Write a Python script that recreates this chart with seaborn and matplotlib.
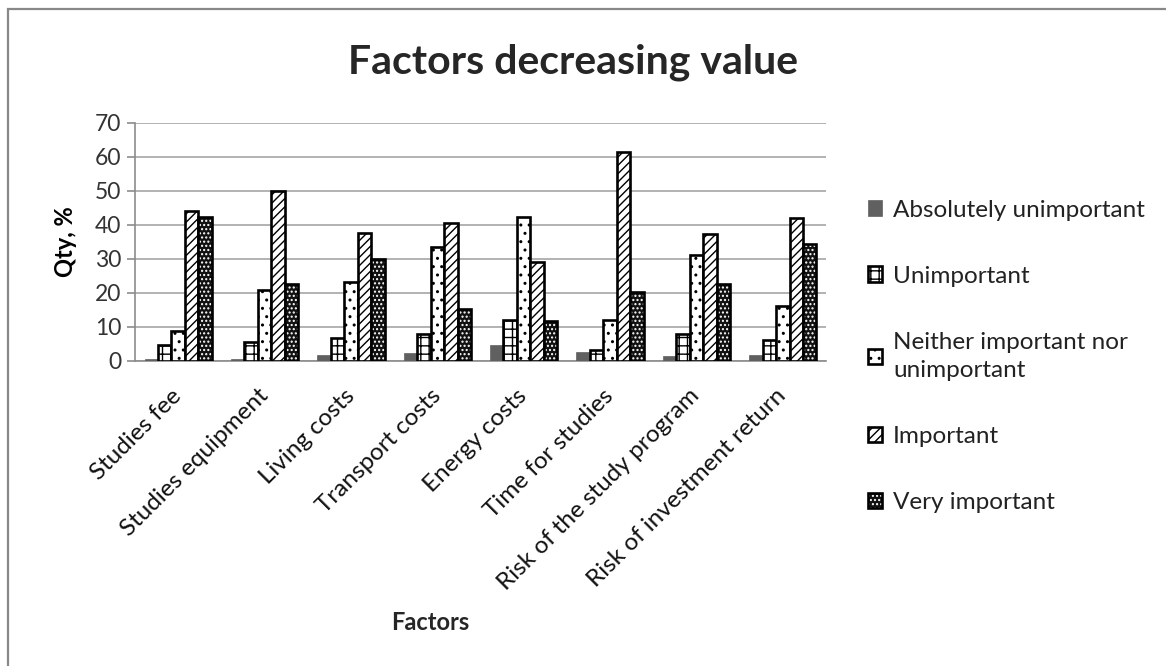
import matplotlib
matplotlib.use("Agg")
import matplotlib.pyplot as plt
import matplotlib.patheffects as pe
from matplotlib.patches import Rectangle
import seaborn as sns
import pandas as pd

factors = ["Studies fee", "Studies equipment", "Living costs", "Transport costs",
           "Energy costs", "Time for studies", "Risk of the study program",
           "Risk of investment return"]
levels = ["Absolutely unimportant", "Unimportant",
          "Neither important nor\nunimportant", "Important", "Very important"]
absolutely_unimportant = [0.3, 0.4, 1.5, 2.3, 4.5, 2.5, 1.2, 1.5]
unimportant = [4.6, 5.5, 6.5, 7.7, 11.8, 3.1, 7.7, 5.9]
neither = [8.6, 20.7, 23.1, 33.4, 42.1, 11.8, 31.1, 15.9]
important = [44.0, 50.0, 37.4, 40.5, 29.0, 61.3, 37.2, 42.0]
very_important = [42.1, 22.4, 29.9, 15.1, 11.5, 20.2, 22.5, 34.2]
yticks = [0, 10, 20, 30, 40, 50, 60, 70]

series = [absolutely_unimportant, unimportant, neither, important, very_important]
rows = []
for lvl, vals in zip(levels, series):
    for f, v in zip(factors, vals):
        rows.append({"Factor": f, "Level": lvl, "Value": v})
df = pd.DataFrame(rows)

sns.set_theme(style="white")
plt.rcParams["font.family"] = ["Lato", "DejaVu Sans"]
plt.rcParams["hatch.linewidth"] = 1.0

fig = plt.figure(figsize=(11.66, 6.66), dpi=100)
ax = fig.add_axes([135 / 1166, 1 - 360.5 / 666, (826 - 135) / 1166, (360.5 - 122.7) / 666])

palette = ["#606060", "white", "white", "white", "#111111"]
sns.barplot(data=df, x="Factor", y="Value", hue="Level", palette=palette,
            width=0.78, gap=0, saturation=1, ax=ax, legend=False,
            edgecolor="black", linewidth=1.8, zorder=3)

LW = 1.9
styles = [
    dict(hatch=None, edge="#606060", lw=0.5),
    dict(hatch="++", edge="black", lw=LW),
    dict(hatch="..", edge="black", lw=LW),
    dict(hatch="////", edge="black", lw=LW),
    dict(hatch="....", edge="white", lw=0.0),
]
for cont, st in zip(ax.containers, styles):
    for p in cont:
        p.set_edgecolor(st["edge"])
        p.set_linewidth(st["lw"])
        if st["hatch"]:
            p.set_hatch(st["hatch"])
        if st["edge"] == "white":
            p.set_path_effects([pe.Normal(),
                                pe.PathPatchEffect(edgecolor="black", facecolor="none",
                                                   linewidth=LW)])

ax.set_ylim(0, 70)
ax.set_yticks(yticks)
ax.set_yticklabels([str(t) for t in yticks], fontsize=16.5, color="#333333")
ax.grid(axis="y", color="#a6a6a6", linewidth=1.2, zorder=0)
ax.set_axisbelow(True)
for s in ["top", "right"]:
    ax.spines[s].set_visible(False)
for s in ["left", "bottom"]:
    ax.spines[s].set_color("#8c8c8c")
    ax.spines[s].set_linewidth(1.2)
ax.tick_params(axis="y", length=6, width=1.2, color="#8c8c8c", left=True, pad=4)
ax.tick_params(axis="x", length=0, pad=23)
ax.set_xticks(range(len(factors)))
ax.set_xticklabels(factors, rotation=45, ha="right", va="center",
                   rotation_mode="anchor", fontsize=17.5, color="#111111")
ax.set_xlabel("")
ax.set_ylabel("Qty, %", fontsize=17, fontweight="bold", color="black", labelpad=13)
fig.text(430 / 1166, 1 - 623 / 666, "Factors", fontsize=17, fontweight="bold",
         ha="center", va="center")
fig.text(573 / 1166, 1 - 62 / 666, "Factors decreasing value", fontsize=29.5,
         fontweight="bold", ha="center", va="center")

leg = ax.legend(ax.containers, levels, loc="upper left",
                bbox_to_anchor=(858 / 1166, 1 - 190 / 666),
                bbox_transform=fig.transFigure, frameon=False, fontsize=17.5,
                labelspacing=1.85, handlelength=0.6, handleheight=0.6,
                handletextpad=0.45, borderaxespad=0)
for t in leg.get_texts():
    t.set_color("#222222")
    t.set_linespacing(1.45)

fig.patches.append(Rectangle((8 / 1166, -0.05), 1.1, 1 - 9 / 666 + 0.05,
                             transform=fig.transFigure, fill=False,
                             edgecolor="#888888", linewidth=1.6))

fig.savefig("out.png", dpi=100)
